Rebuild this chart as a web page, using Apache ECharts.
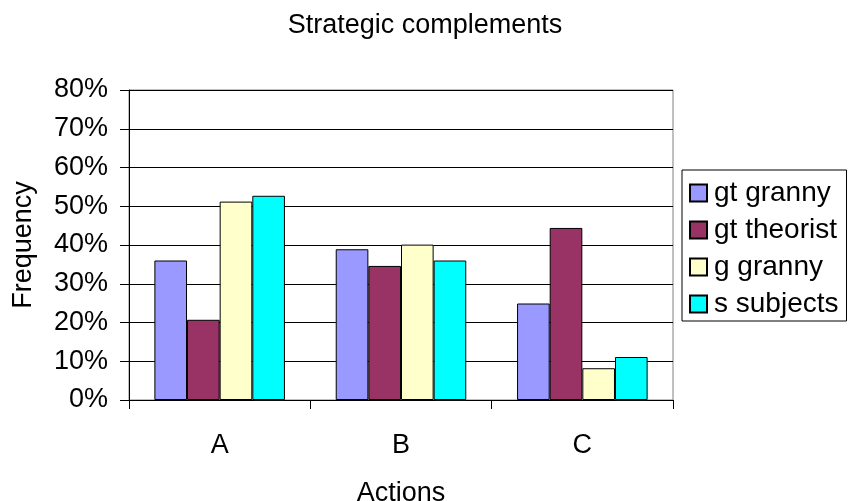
<!DOCTYPE html>
<html>
<head>
<meta charset="utf-8">
<script src="https://cdn.jsdelivr.net/npm/echarts@6/dist/echarts.min.js"></script>
<style>html,body{margin:0;padding:0;background:#fff}#c{width:850px;height:501px}</style>
</head>
<body>
<div id="c"></div>
<script>
var categories = ['A', 'B', 'C'];
var seriesNames = ['gt granny', 'gt theorist', 'g granny', 's subjects'];
var gtGranny = [0.360, 0.389, 0.249];
var gtTheorist = [0.207, 0.346, 0.444];
var gGranny = [0.512, 0.401, 0.082];
var sSubjects = [0.527, 0.360, 0.111];
var colors = ['#9999FF', '#993366', '#FFFFCC', '#00FFFF'];
var yTicks = [0, 0.1, 0.2, 0.3, 0.4, 0.5, 0.6, 0.7, 0.8];

var values = [gtGranny, gtTheorist, gGranny, sSubjects];
var font = 'Liberation Sans, Arial, sans-serif';
var fs = 27;
var chart = echarts.init(document.getElementById('c'));
chart.setOption({
  backgroundColor: '#fff',
  animation: false,
  title: {
    text: 'Strategic complements', left: 'center', top: 7,
    textStyle: { fontFamily: font, fontSize: fs, fontWeight: 'normal', color: '#000' }
  },
  legend: {
    orient: 'vertical', left: 682, top: 170,
    padding: [9, 8, 3, 7],
    itemWidth: 17, itemHeight: 17, itemGap: 9,
    borderColor: '#000', borderWidth: 1,
    icon: 'rect',
    textStyle: { fontFamily: font, fontSize: 28, color: '#000', padding: [0, 0, 0, 2] },
    data: seriesNames
  },
  grid: {
    left: 129, right: 177, top: 90, bottom: 101,
    containLabel: false, outerBoundsMode: 'none',
    show: true, borderColor: '#808080', borderWidth: 1, backgroundColor: '#fff'
  },
  xAxis: {
    type: 'category', data: categories,
    name: 'Actions', nameLocation: 'middle', nameGap: 80,
    nameTextStyle: { fontFamily: font, fontSize: fs, color: '#000' },
    axisLine: { lineStyle: { color: '#000', width: 1 } },
    axisTick: { show: true, length: 9, lineStyle: { color: '#000' } },
    axisLabel: { fontFamily: font, fontSize: fs, color: '#000', margin: 32 }
  },
  yAxis: {
    type: 'value', min: yTicks[0], max: yTicks[yTicks.length - 1], interval: 0.1,
    name: 'Frequency', nameLocation: 'middle', nameGap: 92, nameRotate: 90,
    nameTextStyle: { fontFamily: font, fontSize: fs, color: '#000' },
    axisLine: { show: true, lineStyle: { color: '#000', width: 1 } },
    axisTick: { show: true, length: 9, lineStyle: { color: '#000' } },
    splitLine: { lineStyle: { color: '#000', width: 1 } },
    axisLabel: {
      fontFamily: font, fontSize: fs, color: '#000', margin: 21,
      formatter: function (v) { return Math.round(v * 100) + '%'; }
    }
  },
  series: seriesNames.map(function (n, i) {
    return {
      name: n, type: 'bar', data: values[i],
      barGap: '0%', barCategoryGap: '28%',
      itemStyle: { color: colors[i], borderColor: '#000', borderWidth: 1 }
    };
  })
});
</script>
</body>
</html>
